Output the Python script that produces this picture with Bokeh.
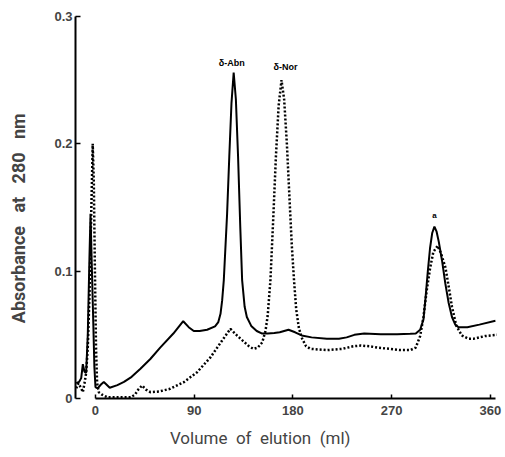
from bokeh.plotting import figure
from bokeh.models import FixedTicker, Range1d, Label
from bokeh.embed import file_html
from bokeh.resources import INLINE

# ---- data ----
solid_x = [-17.5, -15, -13, -11.5, -10, -8.5, -7, -5.5, -4.5, -3.5, -2, -1, 0, 2, 5, 7.6, 10, 13, 20, 26,
           33, 41, 50, 59, 71, 80, 85, 89.6, 95, 101.8, 109, 112, 114, 115.5, 117, 120, 122, 124, 126, 128,
           130, 132, 133.7, 136, 138, 142, 147, 152, 157, 163, 168, 176, 182, 188, 197, 211, 222, 229, 236, 245,
           260, 275, 287, 292, 296, 299, 301, 303, 305, 307, 309, 311, 313, 316, 319, 322, 325, 328, 331, 339,
           350, 364.6]
solid_y = [0.012, 0.013, 0.016, 0.027, 0.021, 0.02, 0.05, 0.11, 0.145, 0.11, 0.06, 0.025, 0.009, 0.008, 0.011, 0.013, 0.011, 0.0085, 0.0105, 0.013,
           0.017, 0.0233, 0.031, 0.040, 0.051, 0.0607, 0.056, 0.053, 0.053, 0.054, 0.0566, 0.06, 0.0665, 0.077, 0.093, 0.145, 0.19, 0.232, 0.256, 0.235,
           0.19, 0.135, 0.093, 0.072, 0.064, 0.057, 0.053, 0.051, 0.051, 0.0515, 0.052, 0.054, 0.052, 0.0495, 0.048, 0.047, 0.047, 0.048, 0.05, 0.051,
           0.0505, 0.0505, 0.0508, 0.051, 0.054, 0.062, 0.08, 0.1, 0.118, 0.13, 0.135, 0.131, 0.123, 0.108, 0.09, 0.075, 0.064, 0.058, 0.056, 0.056,
           0.058, 0.061]

dotted_x = [-17.5, -15.5, -13, -11.5, -10, -8.5, -7, -5.5, -4, -2.5, -1.5, -0.5, 0.5, 1.5, 3, 6, 10.7, 20, 32, 36,
            39, 42.5, 46, 50, 58, 68, 80.5, 92.7, 105, 115.5, 123, 129, 134, 140, 144, 148, 152, 155, 157, 159.5,
            162, 164.5, 167, 169.6, 172, 174.5, 177, 179, 181, 183, 185.5, 188.4, 192, 196, 211, 225, 235, 242, 250, 257,
            268, 278, 287, 292, 296, 299, 302, 305, 308, 312, 315, 319, 322, 325, 329, 334, 340, 345, 355, 366]
dotted_y = [0.008, 0.012, 0.008, 0.005, 0.012, 0.02, 0.04, 0.08, 0.14, 0.2, 0.17, 0.1, 0.04, 0.012, 0.005, 0.003, 0.001, 0.001, 0.001, 0.003,
            0.007, 0.0102, 0.007, 0.005, 0.0055, 0.0076, 0.0128, 0.0207, 0.0325, 0.0456, 0.0547, 0.0495, 0.0456, 0.041, 0.039, 0.04, 0.044, 0.053, 0.065, 0.093,
            0.14, 0.19, 0.23, 0.25, 0.235, 0.2, 0.155, 0.12, 0.093, 0.07, 0.055, 0.047, 0.041, 0.039, 0.038, 0.039, 0.041, 0.0416, 0.041, 0.040,
            0.039, 0.038, 0.038, 0.04, 0.049, 0.064, 0.085, 0.102, 0.115, 0.12, 0.114, 0.103, 0.088, 0.072, 0.057, 0.0495, 0.047, 0.047, 0.049, 0.05]

x_ticks = [0, 90, 180, 270, 360]
y_ticks = [0, 0.1, 0.2, 0.3]
peak_labels = ["δ-Abn", "δ-Nor", "a"]

TICK_FONT = "Liberation Sans"
LABEL_FONT = "Roboto"
NB = "\u00a0"
EN = "\u2002"

p = figure(width=505, height=457, output_backend="svg", toolbar_location=None,
           x_range=Range1d(-18.2, 373.8), y_range=Range1d(0, 0.3047),
           min_border_left=75, min_border_right=0, min_border_top=10, min_border_bottom=59)
p.outline_line_color = None
p.grid.visible = False
p.background_fill_color = "white"
p.border_fill_color = "white"

p.line(solid_x, solid_y, line_color="black", line_width=2)
p.line(dotted_x, dotted_y, line_color="black", line_width=2.5, line_dash="2 2")

# axes
xa = p.xaxis[0]
xa.ticker = FixedTicker(ticks=x_ticks)
xa.bounds = (0, 365)
xa.minor_tick_line_color = None
xa.major_tick_in = 4
xa.major_tick_out = 0
xa.major_label_standoff = 7
xa.major_label_text_font = TICK_FONT
xa.major_label_text_font_style = "bold"
xa.major_label_text_font_size = "13px"
xa.axis_line_width = 2
xa.major_tick_line_width = 1.5
xa.axis_label = (NB * 2).join(["Volume", "of", "elution", "(ml)"]) + EN * 7
xa.axis_label_text_font = LABEL_FONT
xa.axis_label_text_font_style = "normal"
xa.axis_label_text_font_size = "17px"
xa.axis_label_standoff = 10

ya = p.yaxis[0]
ya.ticker = FixedTicker(ticks=y_ticks)
ya.bounds = (0, 0.3)
ya.minor_tick_line_color = None
ya.major_tick_in = 5
ya.major_tick_out = 0
ya.major_label_standoff = 3
ya.major_label_overrides = {0: "0"}
ya.major_label_text_font = TICK_FONT
ya.major_label_text_font_style = "bold"
ya.major_label_text_font_size = "13px"
ya.axis_line_width = 2
ya.major_tick_line_width = 1.5
ya.axis_label = (NB * 3).join(["Absorbance", "at", "280", "nm"]) + EN * 3
ya.axis_label_text_font = LABEL_FONT
ya.axis_label_text_font_style = "bold"
ya.axis_label_text_font_size = "18px"
ya.axis_label_standoff = 22

# peak labels, placed from the data maxima
def peak(xs, ys, lo, hi):
    best = None
    for xv, yv in zip(xs, ys):
        if lo <= xv <= hi and (best is None or yv > best[1]):
            best = (xv, yv)
    return best

pk1 = peak(solid_x, solid_y, 100, 150)
pk2 = peak(dotted_x, dotted_y, 150, 200)
pk3 = peak(solid_x, solid_y, 290, 330)
for (px_, py_), txt, xo, yo, fs in [(pk1, peak_labels[0], -2, 5, "9px"),
                                    (pk2, peak_labels[1], 4, 8, "9px"),
                                    (pk3, peak_labels[2], 0, 7, "8px")]:
    p.add_layout(Label(x=px_, y=py_, text=txt, x_offset=xo, y_offset=yo,
                       text_align="center", text_baseline="bottom",
                       text_font=TICK_FONT, text_font_style="bold",
                       text_font_size=fs, text_color="black"))

open("out.html", "w").write(file_html(p, INLINE))
